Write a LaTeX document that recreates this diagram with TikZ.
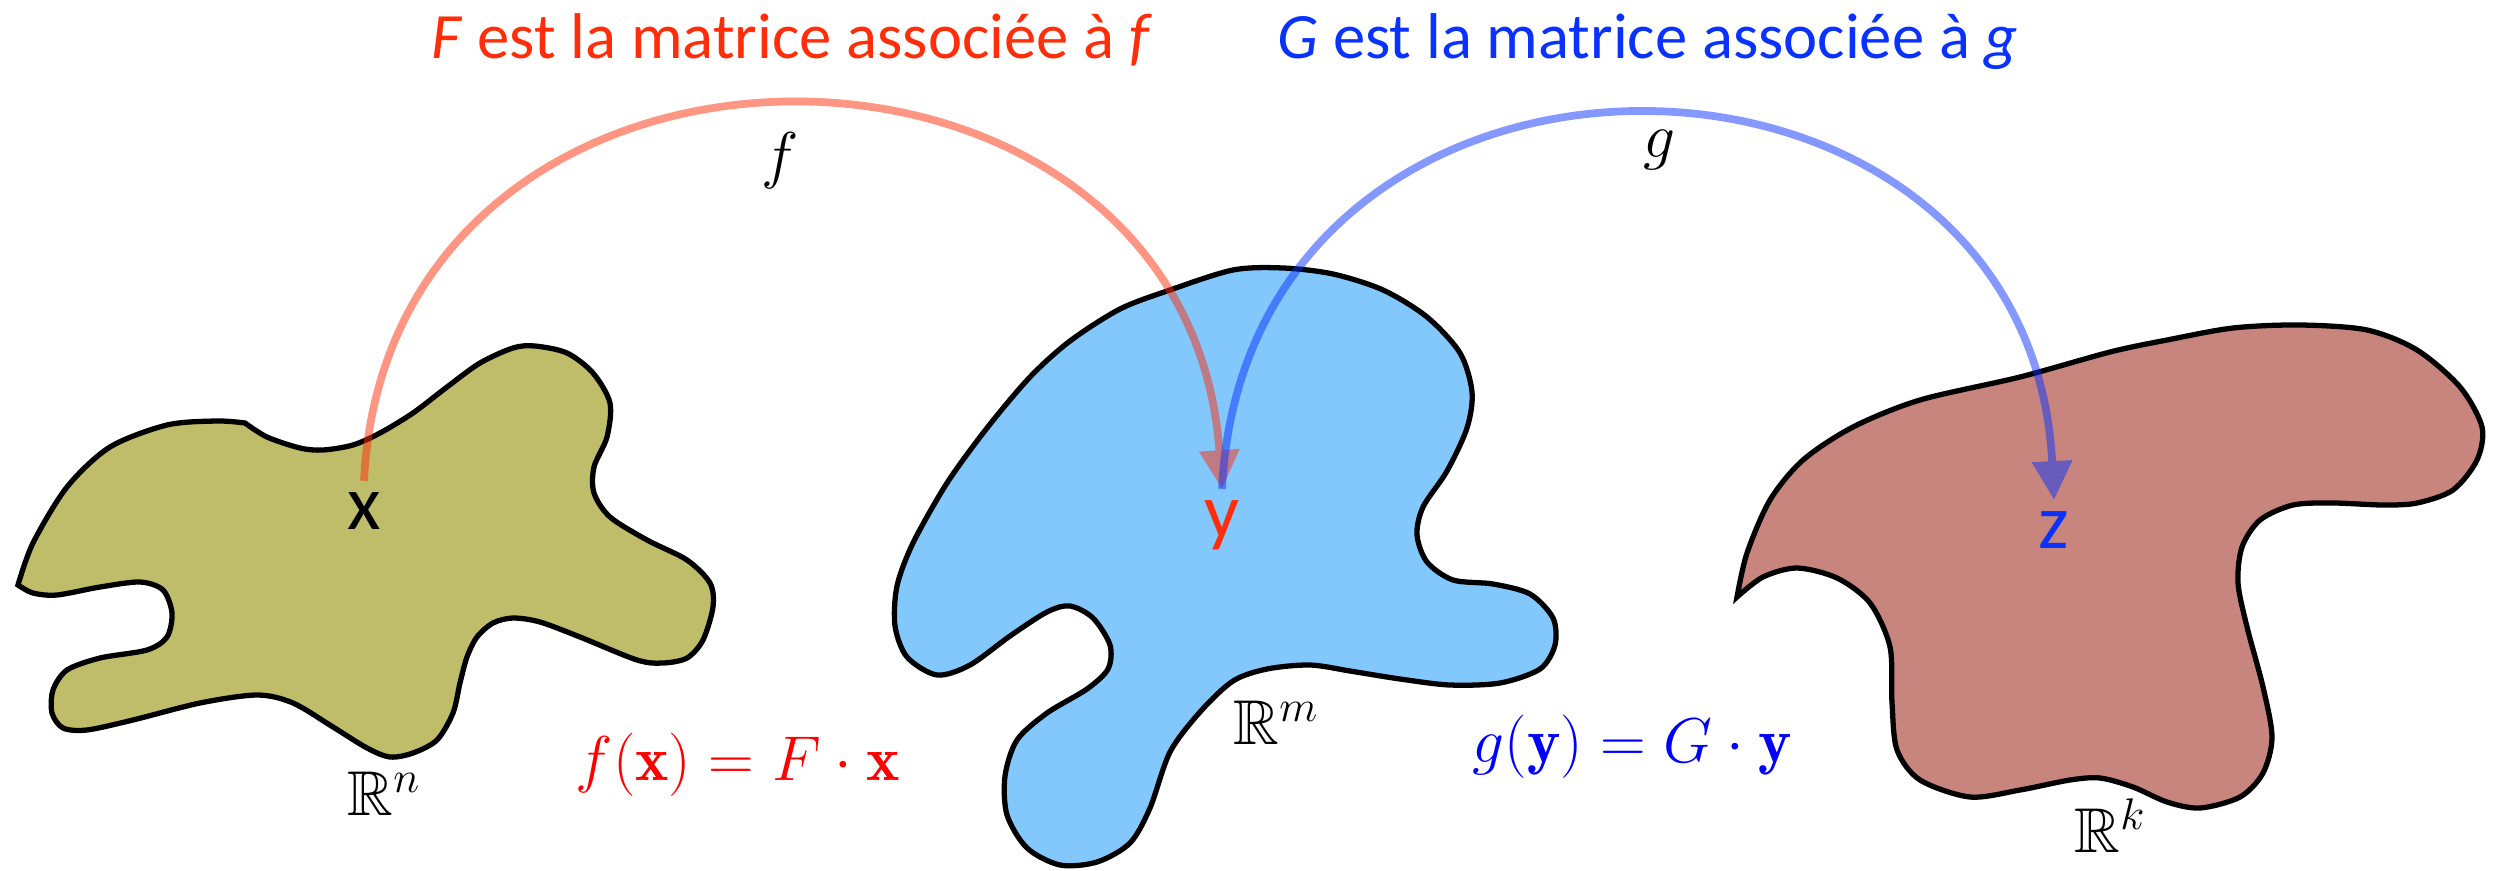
\documentclass[tikz,border=0pt]{standalone}
\usepackage{fix-cm}
\usepackage{amssymb}
\usepackage{fontspec}
\newfontfamily\carlito{Carlito}
\usetikzlibrary{arrows.meta}
\definecolor{mapRed}{HTML}{FF2D0A}
\definecolor{mapBlue}{HTML}{0A32FF}
\definecolor{blobOlive}{HTML}{BFBD6A}
\definecolor{blobSky}{HTML}{82C8FD}
\definecolor{blobBrown}{HTML}{C8857D}

\begin{document}
\begin{tikzpicture}[x=0.01cm, y=-0.01cm,
  every node/.style={inner sep=0pt, font=\fontsize{18}{22}\selectfont},
  blob/.style={draw=black, line width=1.5pt},
  title/.style={anchor=base west, font=\carlito\fontsize{18.4}{22}\selectfont},
  vec/.style={anchor=base, inner sep=3pt, font=\carlito\fontsize{22}{26}\selectfont},
  maparrow/.style={line width=2.2pt, -{Triangle[length=11pt, width=11pt]}}]
  \useasboundingbox (0,0) rectangle (2504,870);

  % R^n
  \draw[blob, fill=blobOlive] plot[smooth] coordinates {(18,585) (33,543) (67,487) (110,447) (167,425) (217,421) (245,423)}
    -- plot[smooth] coordinates {(245,423) (267,437) (300,448) (323,450) (353,445) (380,433) (413,413) (447,387) (480,363)
      (513,348) (535,346) (567,353) (593,373) (610,403) (607,437) (594,467) (594,493) (610,517) (647,540) (687,560) (710,583)
      (713,607) (703,640) (687,658) (663,663) (637,660) (580,637) (540,622) (513,618) (493,623) (477,637) (467,657) (460,683)
      (453,713) (437,740) (413,753) (390,757) (367,748) (333,727) (293,703) (257,695) (200,703) (133,720) (87,730) (63,728)
      (52,713) (53,690) (67,670) (100,658) (147,650) (167,637) (172,613) (163,590) (140,582) (100,587) (57,595) (33,593) (18,585)}
    -- cycle;
  % R^m
  \draw[blob, fill=blobSky] plot[smooth cycle] coordinates {(895,626) (897,586) (913,543) (947,483) (987,428) (1030,377)
      (1070,341) (1120,309) (1170,290) (1233,270) (1283,268) (1333,274) (1383,290) (1427,317) (1460,353) (1472,392)
      (1467,428) (1447,471) (1423,507) (1417,535) (1427,562) (1453,580) (1493,584) (1530,594) (1553,618) (1555,645)
      (1540,669) (1500,683) (1450,685) (1400,679) (1350,671) (1310,665) (1267,669) (1233,681) (1200,712) (1170,752)
      (1150,808) (1130,843) (1097,862) (1060,865) (1027,848) (1007,815) (1005,776) (1017,740) (1047,713) (1087,689)
      (1108,669) (1110,645) (1093,618) (1070,606) (1047,612) (1010,636) (970,665) (937,675) (907,657)};
  % R^k
  \draw[blob, fill=blobBrown] plot[smooth] coordinates {(1737,597) (1747,553) (1770,500) (1803,460) (1853,427) (1920,400)
      (2020,377) (2110,352) (2167,340) (2233,328) (2300,325) (2367,330) (2417,350) (2460,387) (2482,427) (2477,460)
      (2453,490) (2417,503) (2383,505) (2333,503) (2293,505) (2260,520) (2242,547) (2238,583) (2247,627) (2263,687)
      (2272,737) (2263,773) (2240,797) (2200,808) (2167,802) (2133,787) (2100,778) (2070,780) (2020,790) (1970,797)
      (1920,780) (1897,750) (1892,703) (1890,647) (1870,603) (1837,578) (1797,568) (1763,577) (1737,597)} -- cycle;

  \node[title, text=mapRed] (tf) at (431,59) {\textit{F} est la matrice associée à \textit{f}};
  \node[title, text=mapBlue] (tg) at (1277,59) {\textit{G} est la matrice associée à \textit{g}};

  \node[vec] (x) at (364,529) {x};
  \node[vec, text=mapRed] (y) at (1222,537) {y};
  \node[vec, text=mapBlue] (z) at (2054,548) {z};

  \node[anchor=base] (fl) at (780,176) {$f$};
  \node[anchor=base] (gl) at (1659,158) {$g$};

  \node[anchor=base west] (rn) at (347,815) {$\mathbb{R}^n$};
  \node[anchor=base west] (rm) at (1233,744) {$\mathbb{R}^m$};
  \node[anchor=base west] (rk) at (2074,852) {$\mathbb{R}^k$};

  \node[anchor=base west, text=red] (ef) at (575,780) {$f(\mathbf{x}) = F\cdot\mathbf{x}$};
  \node[anchor=base west, text=blue] (eg) at (1472,762) {$g(\mathbf{y}) = G\cdot\mathbf{y}$};

  \begin{scope}[transparency group, opacity=0.5]
    \draw[maparrow, mapRed] (x.north) .. controls +(25,-505) and +(-35,-505) .. (y.north);
  \end{scope}
  \begin{scope}[transparency group, opacity=0.5]
    \draw[maparrow, mapBlue] (y.north) .. controls +(25,-505) and +(-25,-505) .. (z.north);
  \end{scope}
\end{tikzpicture}
\end{document}
